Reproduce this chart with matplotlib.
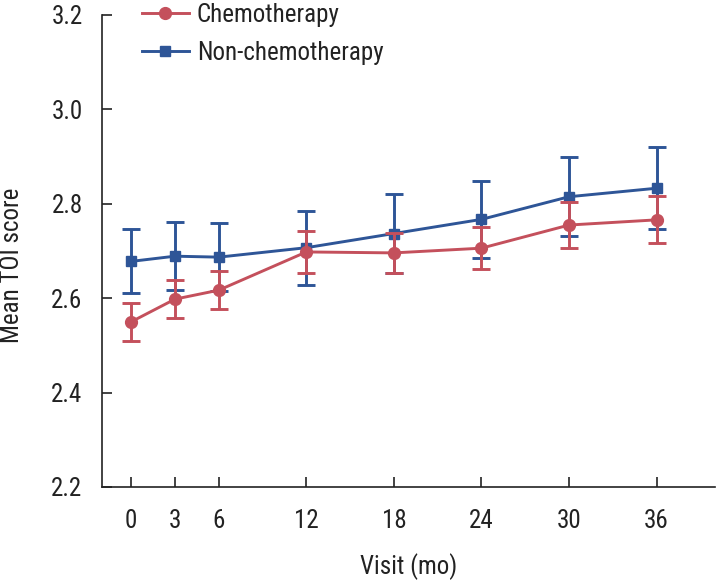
import matplotlib
matplotlib.use('Agg')
import matplotlib.pyplot as plt
from matplotlib import font_manager
from matplotlib.lines import Line2D

# Data
visits = [0, 3, 6, 12, 18, 24, 30, 36]

chemo_mean = [2.550, 2.598, 2.617, 2.698, 2.696, 2.706, 2.755, 2.766]
chemo_err = [0.040, 0.040, 0.040, 0.044, 0.042, 0.044, 0.048, 0.050]

nonchemo_mean = [2.678, 2.689, 2.687, 2.707, 2.737, 2.767, 2.815, 2.833]
nonchemo_err = [0.068, 0.072, 0.072, 0.078, 0.083, 0.082, 0.084, 0.087]

y_ticks = [2.2, 2.4, 2.6, 2.8, 3.0, 3.2]

RED = '#C4505C'
BLUE = '#2E5597'
INK = '#222222'
FS = 18


def pick_font():
	names = {f.name for f in font_manager.fontManager.ttflist}
	for name in ['Liberation Sans Narrow', 'Roboto Condensed', 'Liberation Sans']:
		if name in names:
			return name
	return 'DejaVu Sans'


def main():
	plt.rcParams['font.family'] = [pick_font(), 'DejaVu Sans']

	fig = plt.figure(figsize=(7.16, 5.81), dpi=100)
	ax = fig.add_axes([102 / 716, 1 - 487 / 581, (715 - 102) / 716, (487 - 15) / 581])

	style = dict(linewidth=2.1, elinewidth=2.1, capsize=6.5, capthick=2.1)
	ax.errorbar(visits, nonchemo_mean, yerr=nonchemo_err, color=BLUE, marker='s',
		markersize=7.5, zorder=3, **style)
	ax.errorbar(visits, chemo_mean, yerr=chemo_err, color=RED, marker='o',
		markersize=8.5, zorder=4, **style)

	ax.set_xlim(-2, 40)
	ax.set_ylim(2.2, 3.2)
	ax.set_xticks(visits)
	ax.set_yticks(y_ticks)
	ax.set_yticklabels([f'{v:.1f}' for v in y_ticks])

	for side in ['top', 'right']:
		ax.spines[side].set_visible(False)
	for side in ['left', 'bottom']:
		ax.spines[side].set_linewidth(1.2)
		ax.spines[side].set_color(INK)

	ax.tick_params(axis='both', direction='in', length=7, width=1.2,
		colors=INK, labelsize=FS, labelcolor=INK)
	ax.tick_params(axis='x', pad=16)
	ax.tick_params(axis='y', pad=14)

	ax.set_xlabel('Visit (mo)', fontsize=FS, color=INK, labelpad=14)
	fig.text(12 / 716, 1 - 265 / 581, 'Mean TOI score', rotation=90,
		ha='center', va='center', fontsize=FS, color=INK)

	# Legend shows line + marker only (no error bars)
	handles = [
		Line2D([], [], color=RED, marker='o', markersize=8.5, linewidth=2.1),
		Line2D([], [], color=BLUE, marker='s', markersize=7.5, linewidth=2.1),
	]
	leg = ax.legend(handles, ['Chemotherapy', 'Non-chemotherapy'], loc='upper left',
		bbox_to_anchor=(0.028, 1.073), frameon=False, fontsize=FS,
		handlelength=1.9, labelspacing=0.55, handletextpad=0.3)
	for t in leg.get_texts():
		t.set_color(INK)

	fig.savefig('out.png', dpi=100)
	plt.close()

	return


if __name__ == '__main__':
	main()
